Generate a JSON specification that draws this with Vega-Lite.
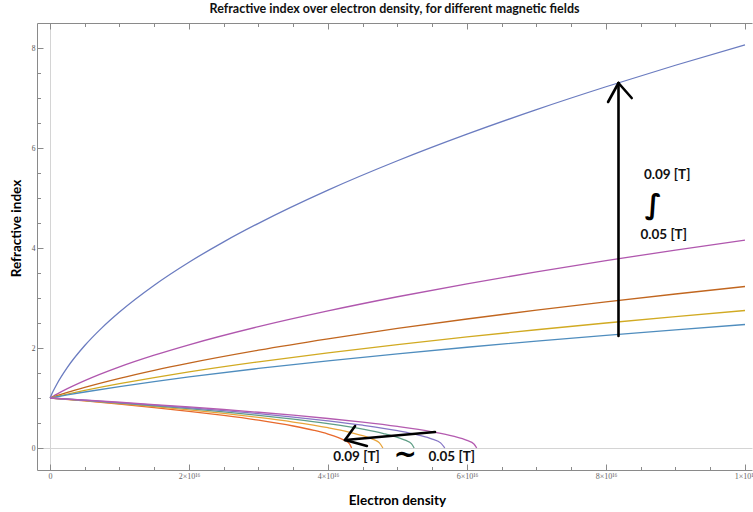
{
  "$schema": "https://vega.github.io/schema/vega-lite/v6.json",
  "width": 715,
  "height": 447,
  "autosize": {"type": "none"},
  "padding": {"left": 37, "top": 23, "right": 1, "bottom": 42},
  "background": "white",
  "title": {
    "text": "Refractive index over electron density, for different magnetic fields",
    "font": "Lato",
    "fontSize": 12.5,
    "fontWeight": "bold",
    "color": "#111111",
    "anchor": "middle",
    "offset": 7
  },
  "config": {
    "view": {"stroke": null},
    "axis": {
      "domainColor": "#8a8a8a",
      "domainWidth": 1,
      "tickColor": "#8a8a8a",
      "labelFont": "Liberation Serif",
      "labelFontSize": 8,
      "labelColor": "#666666",
      "titleFont": "Lato",
      "titleFontSize": 13.5,
      "titleFontWeight": "bold",
      "titleColor": "#000000"
    }
  },
  "datasets": {
    "curves": [
      {"s": "n+ 0.09 T", "d": 0, "n": 1},
      {"s": "n+ 0.09 T", "d": 2e14, "n": 1.062},
      {"s": "n+ 0.09 T", "d": 5e14, "n": 1.149},
      {"s": "n+ 0.09 T", "d": 1e15, "n": 1.281},
      {"s": "n+ 0.09 T", "d": 2.5e15, "n": 1.612},
      {"s": "n+ 0.09 T", "d": 5e15, "n": 2.049},
      {"s": "n+ 0.09 T", "d": 7.5e15, "n": 2.408},
      {"s": "n+ 0.09 T", "d": 1e16, "n": 2.72},
      {"s": "n+ 0.09 T", "d": 1.5e16, "n": 3.256},
      {"s": "n+ 0.09 T", "d": 2e16, "n": 3.715},
      {"s": "n+ 0.09 T", "d": 2.5e16, "n": 4.123},
      {"s": "n+ 0.09 T", "d": 3e16, "n": 4.494},
      {"s": "n+ 0.09 T", "d": 4e16, "n": 5.158},
      {"s": "n+ 0.09 T", "d": 5e16, "n": 5.745},
      {"s": "n+ 0.09 T", "d": 6e16, "n": 6.277},
      {"s": "n+ 0.09 T", "d": 7e16, "n": 6.768},
      {"s": "n+ 0.09 T", "d": 8e16, "n": 7.225},
      {"s": "n+ 0.09 T", "d": 9e16, "n": 7.655},
      {"s": "n+ 0.09 T", "d": 1e17, "n": 8.062},

      {"s": "n+ 0.08 T", "d": 0, "n": 1},
      {"s": "n+ 0.08 T", "d": 5e14, "n": 1.04},
      {"s": "n+ 0.08 T", "d": 1e15, "n": 1.078},
      {"s": "n+ 0.08 T", "d": 2.5e15, "n": 1.186},
      {"s": "n+ 0.08 T", "d": 5e15, "n": 1.347},
      {"s": "n+ 0.08 T", "d": 1e16, "n": 1.622},
      {"s": "n+ 0.08 T", "d": 1.5e16, "n": 1.856},
      {"s": "n+ 0.08 T", "d": 2e16, "n": 2.064},
      {"s": "n+ 0.08 T", "d": 3e16, "n": 2.427},
      {"s": "n+ 0.08 T", "d": 4e16, "n": 2.742},
      {"s": "n+ 0.08 T", "d": 5e16, "n": 3.025},
      {"s": "n+ 0.08 T", "d": 6e16, "n": 3.283},
      {"s": "n+ 0.08 T", "d": 7e16, "n": 3.523},
      {"s": "n+ 0.08 T", "d": 8e16, "n": 3.747},
      {"s": "n+ 0.08 T", "d": 9e16, "n": 3.959},
      {"s": "n+ 0.08 T", "d": 1e17, "n": 4.159},

      {"s": "n+ 0.07 T", "d": 0, "n": 1},
      {"s": "n+ 0.07 T", "d": 1e15, "n": 1.046},
      {"s": "n+ 0.07 T", "d": 2.5e15, "n": 1.112},
      {"s": "n+ 0.07 T", "d": 5e15, "n": 1.213},
      {"s": "n+ 0.07 T", "d": 1e16, "n": 1.394},
      {"s": "n+ 0.07 T", "d": 1.5e16, "n": 1.554},
      {"s": "n+ 0.07 T", "d": 2e16, "n": 1.699},
      {"s": "n+ 0.07 T", "d": 3e16, "n": 1.957},
      {"s": "n+ 0.07 T", "d": 4e16, "n": 2.184},
      {"s": "n+ 0.07 T", "d": 5e16, "n": 2.391},
      {"s": "n+ 0.07 T", "d": 6e16, "n": 2.58},
      {"s": "n+ 0.07 T", "d": 7e16, "n": 2.757},
      {"s": "n+ 0.07 T", "d": 8e16, "n": 2.923},
      {"s": "n+ 0.07 T", "d": 9e16, "n": 3.08},
      {"s": "n+ 0.07 T", "d": 1e17, "n": 3.23},

      {"s": "n+ 0.06 T", "d": 0, "n": 1},
      {"s": "n+ 0.06 T", "d": 1e15, "n": 1.032},
      {"s": "n+ 0.06 T", "d": 2.5e15, "n": 1.079},
      {"s": "n+ 0.06 T", "d": 5e15, "n": 1.152},
      {"s": "n+ 0.06 T", "d": 1e16, "n": 1.287},
      {"s": "n+ 0.06 T", "d": 1.5e16, "n": 1.409},
      {"s": "n+ 0.06 T", "d": 2e16, "n": 1.521},
      {"s": "n+ 0.06 T", "d": 3e16, "n": 1.723},
      {"s": "n+ 0.06 T", "d": 4e16, "n": 1.904},
      {"s": "n+ 0.06 T", "d": 5e16, "n": 2.069},
      {"s": "n+ 0.06 T", "d": 6e16, "n": 2.222},
      {"s": "n+ 0.06 T", "d": 7e16, "n": 2.365},
      {"s": "n+ 0.06 T", "d": 8e16, "n": 2.5},
      {"s": "n+ 0.06 T", "d": 9e16, "n": 2.628},
      {"s": "n+ 0.06 T", "d": 1e17, "n": 2.75},

      {"s": "n+ 0.05 T", "d": 0, "n": 1},
      {"s": "n+ 0.05 T", "d": 1e15, "n": 1.025},
      {"s": "n+ 0.05 T", "d": 2.5e15, "n": 1.062},
      {"s": "n+ 0.05 T", "d": 5e15, "n": 1.12},
      {"s": "n+ 0.05 T", "d": 1e16, "n": 1.229},
      {"s": "n+ 0.05 T", "d": 1.5e16, "n": 1.329},
      {"s": "n+ 0.05 T", "d": 2e16, "n": 1.421},
      {"s": "n+ 0.05 T", "d": 3e16, "n": 1.591},
      {"s": "n+ 0.05 T", "d": 4e16, "n": 1.744},
      {"s": "n+ 0.05 T", "d": 5e16, "n": 1.884},
      {"s": "n+ 0.05 T", "d": 6e16, "n": 2.015},
      {"s": "n+ 0.05 T", "d": 7e16, "n": 2.138},
      {"s": "n+ 0.05 T", "d": 8e16, "n": 2.254},
      {"s": "n+ 0.05 T", "d": 9e16, "n": 2.364},
      {"s": "n+ 0.05 T", "d": 1e17, "n": 2.47},

      {"s": "n- 0.09 T", "d": 0, "n": 1},
      {"s": "n- 0.09 T", "d": 5e15, "n": 0.9406},
      {"s": "n- 0.09 T", "d": 1e16, "n": 0.8773},
      {"s": "n- 0.09 T", "d": 1.5e16, "n": 0.8089},
      {"s": "n- 0.09 T", "d": 2e16, "n": 0.7343},
      {"s": "n- 0.09 T", "d": 2.5e16, "n": 0.6511},
      {"s": "n- 0.09 T", "d": 3e16, "n": 0.5557},
      {"s": "n- 0.09 T", "d": 3.5e16, "n": 0.4399},
      {"s": "n- 0.09 T", "d": 3.8e16, "n": 0.3527},
      {"s": "n- 0.09 T", "d": 4e16, "n": 0.2799},
      {"s": "n- 0.09 T", "d": 4.15e16, "n": 0.2092},
      {"s": "n- 0.09 T", "d": 4.25e16, "n": 0.144},
      {"s": "n- 0.09 T", "d": 4.31e16, "n": 0.0831},
      {"s": "n- 0.09 T", "d": 4.34e16, "n": 0},

      {"s": "n- 0.08 T", "d": 0, "n": 1},
      {"s": "n- 0.08 T", "d": 5e15, "n": 0.9464},
      {"s": "n- 0.08 T", "d": 1e16, "n": 0.8895},
      {"s": "n- 0.08 T", "d": 1.5e16, "n": 0.8287},
      {"s": "n- 0.08 T", "d": 2e16, "n": 0.7632},
      {"s": "n- 0.08 T", "d": 2.5e16, "n": 0.6914},
      {"s": "n- 0.08 T", "d": 3e16, "n": 0.6113},
      {"s": "n- 0.08 T", "d": 3.5e16, "n": 0.5189},
      {"s": "n- 0.08 T", "d": 4e16, "n": 0.4061},
      {"s": "n- 0.08 T", "d": 4.3e16, "n": 0.3198},
      {"s": "n- 0.08 T", "d": 4.5e16, "n": 0.246},
      {"s": "n- 0.08 T", "d": 4.65e16, "n": 0.1709},
      {"s": "n- 0.08 T", "d": 4.74e16, "n": 0.1022},
      {"s": "n- 0.08 T", "d": 4.79e16, "n": 0},

      {"s": "n- 0.07 T", "d": 0, "n": 1},
      {"s": "n- 0.07 T", "d": 5e15, "n": 0.9511},
      {"s": "n- 0.07 T", "d": 1e16, "n": 0.8995},
      {"s": "n- 0.07 T", "d": 1.5e16, "n": 0.8448},
      {"s": "n- 0.07 T", "d": 2e16, "n": 0.7863},
      {"s": "n- 0.07 T", "d": 2.5e16, "n": 0.7231},
      {"s": "n- 0.07 T", "d": 3e16, "n": 0.6538},
      {"s": "n- 0.07 T", "d": 3.5e16, "n": 0.5763},
      {"s": "n- 0.07 T", "d": 4e16, "n": 0.4864},
      {"s": "n- 0.07 T", "d": 4.5e16, "n": 0.3758},
      {"s": "n- 0.07 T", "d": 4.8e16, "n": 0.2898},
      {"s": "n- 0.07 T", "d": 5e16, "n": 0.214},
      {"s": "n- 0.07 T", "d": 5.12e16, "n": 0.1513},
      {"s": "n- 0.07 T", "d": 5.2e16, "n": 0.0874},
      {"s": "n- 0.07 T", "d": 5.24e16, "n": 0},

      {"s": "n- 0.06 T", "d": 0, "n": 1},
      {"s": "n- 0.06 T", "d": 5e15, "n": 0.955},
      {"s": "n- 0.06 T", "d": 1e16, "n": 0.9077},
      {"s": "n- 0.06 T", "d": 1.5e16, "n": 0.8578},
      {"s": "n- 0.06 T", "d": 2e16, "n": 0.8049},
      {"s": "n- 0.06 T", "d": 2.5e16, "n": 0.7482},
      {"s": "n- 0.06 T", "d": 3e16, "n": 0.6869},
      {"s": "n- 0.06 T", "d": 3.5e16, "n": 0.6195},
      {"s": "n- 0.06 T", "d": 4e16, "n": 0.5439},
      {"s": "n- 0.06 T", "d": 4.5e16, "n": 0.4558},
      {"s": "n- 0.06 T", "d": 5e16, "n": 0.346},
      {"s": "n- 0.06 T", "d": 5.3e16, "n": 0.2587},
      {"s": "n- 0.06 T", "d": 5.5e16, "n": 0.178},
      {"s": "n- 0.06 T", "d": 5.62e16, "n": 0.1028},
      {"s": "n- 0.06 T", "d": 5.68e16, "n": 0},

      {"s": "n- 0.05 T", "d": 0, "n": 1},
      {"s": "n- 0.05 T", "d": 5e15, "n": 0.9584},
      {"s": "n- 0.05 T", "d": 1e16, "n": 0.9149},
      {"s": "n- 0.05 T", "d": 1.5e16, "n": 0.8693},
      {"s": "n- 0.05 T", "d": 2e16, "n": 0.8211},
      {"s": "n- 0.05 T", "d": 2.5e16, "n": 0.7699},
      {"s": "n- 0.05 T", "d": 3e16, "n": 0.7151},
      {"s": "n- 0.05 T", "d": 3.5e16, "n": 0.6557},
      {"s": "n- 0.05 T", "d": 4e16, "n": 0.5904},
      {"s": "n- 0.05 T", "d": 4.5e16, "n": 0.5168},
      {"s": "n- 0.05 T", "d": 5e16, "n": 0.4309},
      {"s": "n- 0.05 T", "d": 5.5e16, "n": 0.3228},
      {"s": "n- 0.05 T", "d": 5.8e16, "n": 0.2353},
      {"s": "n- 0.05 T", "d": 6e16, "n": 0.151},
      {"s": "n- 0.05 T", "d": 6.1e16, "n": 0.0807},
      {"s": "n- 0.05 T", "d": 6.14e16, "n": 0}
    ],
    "arrows": [
      {"x1": 8.18e16, "y1": 2.24, "x2": 8.18e16, "y2": 7.3},
      {"x1": 8.18e16, "y1": 7.3, "x2": 8.03e16, "y2": 6.92},
      {"x1": 8.18e16, "y1": 7.3, "x2": 8.37e16, "y2": 7.0},
      {"x1": 5.54e16, "y1": 0.32, "x2": 4.245e16, "y2": 0.16},
      {"x1": 4.245e16, "y1": 0.16, "x2": 4.39e16, "y2": 0.44},
      {"x1": 4.245e16, "y1": 0.16, "x2": 4.56e16, "y2": 0.04}
    ],
    "notes": [
      {"t": "0.09 [T]", "x": 8.88e16, "y": 5.46},
      {"t": "0.05 [T]", "x": 8.83e16, "y": 4.26},
      {"t": "0.09 [T]", "x": 4.41e16, "y": -0.18},
      {"t": "0.05 [T]", "x": 5.78e16, "y": -0.18}
    ],
    "squiggle": [
      {"t": "∫", "x": 8.68e16, "y": 4.84},
      {"t": "~", "x": 5.11e16, "y": -0.13}
    ]
  },
  "layer": [
    {
      "data": {"name": "curves"},
      "mark": {"type": "line", "strokeWidth": 1.3, "interpolate": "monotone", "clip": true},
      "encoding": {
        "x": {
          "field": "d",
          "type": "quantitative",
          "scale": {"domain": [-1.87e15, 1.0101e17], "nice": false, "zero": false},
          "axis": {
            "orient": "bottom",
            "title": "Electron density",
            "titleX": 360,
            "titleY": 30,
            "titleBaseline": "middle",
            "values": [0, 5e15, 1e16, 1.5e16, 2e16, 2.5e16, 3e16, 3.5e16, 4e16, 4.5e16, 5e16, 5.5e16, 6e16, 6.5e16, 7e16, 7.5e16, 8e16, 8.5e16, 9e16, 9.5e16, 1e17],
            "labelExpr": "abs(datum.value) < 1 ? '0' : (abs(datum.value/2e16 - round(datum.value/2e16)) < 0.001 ? (datum.value >= 9.9e16 ? '1×10¹⁷' : format(datum.value/1e16, 'd') + '×10¹⁶') : '')",
            "labelPadding": 8,
            "labelFlush": false,
            "labelOverlap": false,
            "tickSize": {"condition": {"test": "abs(datum.value/2e16 - round(datum.value/2e16)) < 0.001", "value": -6}, "value": -3.5},
            "grid": true,
            "gridColor": "#d4d4d4",
            "gridOpacity": {"condition": {"test": "abs(datum.value) < 1", "value": 1}, "value": 0}
          }
        },
        "y": {
          "field": "n",
          "type": "quantitative",
          "scale": {"domain": [-0.44, 8.5], "nice": false, "zero": false},
          "axis": {
            "orient": "left",
            "title": "Refractive index",
            "titleX": -21,
            "titleY": 205,
            "titleBaseline": "middle",
            "values": [0, 0.5, 1, 1.5, 2, 2.5, 3, 3.5, 4, 4.5, 5, 5.5, 6, 6.5, 7, 7.5, 8],
            "labelExpr": "datum.value % 2 == 0 ? format(datum.value, 'd') : ''",
            "labelFontSize": 7.5,
            "labelColor": "#555555",
            "labelPadding": 8,
            "labelOverlap": false,
            "labelFlush": false,
            "tickSize": {"condition": {"test": "datum.value % 2 == 0", "value": -6}, "value": -3.5},
            "grid": true,
            "gridColor": "#d4d4d4",
            "gridOpacity": {"condition": {"test": "datum.value == 0", "value": 1}, "value": 0}
          }
        },
        "color": {
          "field": "s",
          "type": "nominal",
          "scale": {
            "domain": ["n+ 0.09 T", "n+ 0.08 T", "n+ 0.07 T", "n+ 0.06 T", "n+ 0.05 T", "n- 0.09 T", "n- 0.08 T", "n- 0.07 T", "n- 0.06 T", "n- 0.05 T"],
            "range": ["#6B7CC0", "#B057AE", "#C1661F", "#D1AA22", "#4F8DBE", "#E8692C", "#E9A43A", "#5F9E86", "#8676C6", "#B45BB0"]
          },
          "legend": null
        }
      }
    },
    {
      "data": {"name": "arrows"},
      "mark": {"type": "rule", "color": "#000000", "strokeWidth": 2.6, "strokeCap": "round"},
      "encoding": {
        "x": {
          "field": "x1",
          "type": "quantitative",
          "scale": {"domain": [-1.87e15, 1.0101e17], "nice": false, "zero": false},
          "axis": {
            "orient": "top",
            "title": null,
            "values": [0, 5e15, 1e16, 1.5e16, 2e16, 2.5e16, 3e16, 3.5e16, 4e16, 4.5e16, 5e16, 5.5e16, 6e16, 6.5e16, 7e16, 7.5e16, 8e16, 8.5e16, 9e16, 9.5e16, 1e17],
            "labels": false,
            "grid": false,
            "tickSize": {"condition": {"test": "abs(datum.value/2e16 - round(datum.value/2e16)) < 0.001", "value": -6}, "value": -3.5}
          }
        },
        "y": {
          "field": "y1",
          "type": "quantitative",
          "scale": {"domain": [-0.44, 8.5], "nice": false, "zero": false},
          "axis": null
        },
        "x2": {"field": "x2"},
        "y2": {"field": "y2"}
      }
    },
    {
      "data": {"name": "notes"},
      "mark": {"type": "text", "font": "Lato", "fontSize": 13.5, "fontWeight": "bold", "color": "#111111", "align": "center", "baseline": "middle"},
      "encoding": {
        "x": {"field": "x", "type": "quantitative", "axis": null},
        "y": {"field": "y", "type": "quantitative", "axis": null},
        "text": {"field": "t"}
      }
    },
    {
      "data": {"name": "squiggle"},
      "mark": {"type": "text", "font": "DejaVu Sans", "fontSize": 28, "fontWeight": "bold", "color": "#000000", "align": "center", "baseline": "middle"},
      "encoding": {
        "x": {"field": "x", "type": "quantitative", "axis": null},
        "y": {"field": "y", "type": "quantitative", "axis": null},
        "text": {"field": "t"}
      }
    }
  ],
  "resolve": {"axis": {"x": "independent", "y": "independent"}}
}
